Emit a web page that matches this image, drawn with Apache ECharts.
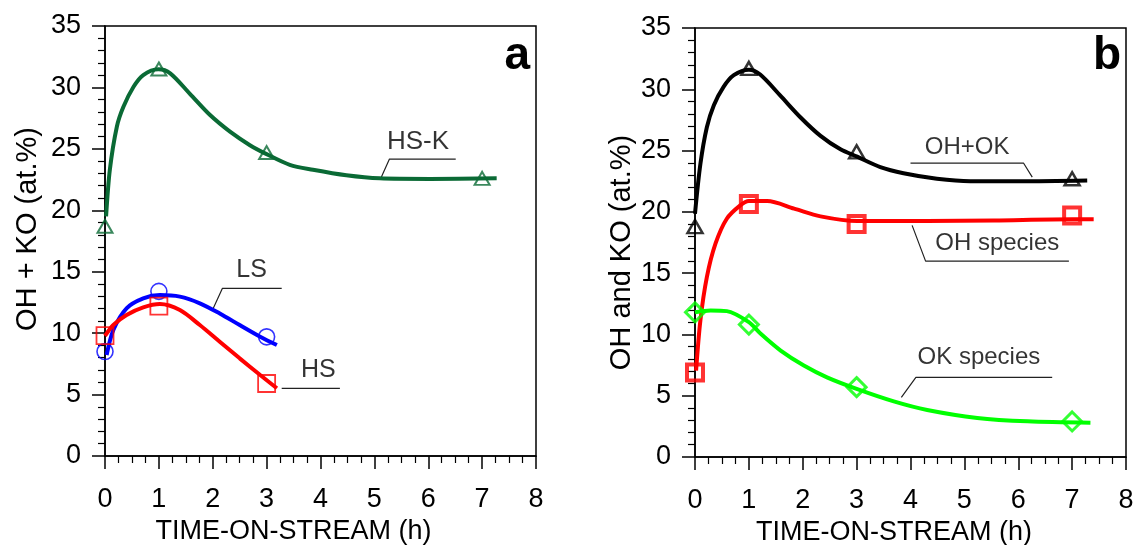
<!DOCTYPE html>
<html>
<head>
<meta charset="utf-8">
<script src="https://cdn.jsdelivr.net/npm/echarts@6/dist/echarts.min.js"></script>
<style>
html,body{margin:0;padding:0;background:#fff;}
#chart{width:1133px;height:545px;}
</style>
</head>
<body>
<div id="chart"></div>
<script>
// ---------- Panel a: measured points ----------
var ptsHSK = [[0, 18.7], [1, 31.5], [3, 24.7], [7, 22.6]];
var ptsLS  = [[0, 8.5], [1, 13.4], [3, 9.7]];
var ptsHS  = [[0, 9.8], [1, 12.2], [3, 5.9]];
// Panel a: fitted curves
var curveHSK = [[0.02,19.5],[0.09,23.3],[0.22,26.8],[0.34,28.4],[0.53,30.05],[0.71,31.0],[0.99,31.47],[1.21,31.15],[1.58,29.46],[1.95,27.75],[2.32,26.4],[2.69,25.3],[3.0,24.57],[3.43,23.7],[3.86,23.3],[4.48,22.85],[5.1,22.6],[6.03,22.55],[7.27,22.6]];
var curveLS = [[0.03,8.22],[0.155,10.26],[0.40,12.02],[0.71,12.83],[1.02,13.1],[1.39,12.97],[1.76,12.43],[2.13,11.6],[2.5,10.66],[2.88,9.71],[3.19,9.03]];
var curveHS = [[0.0,9.77],[0.155,10.66],[0.40,11.48],[0.71,12.1],[1.02,12.37],[1.39,11.88],[1.76,10.66],[2.13,9.3],[2.5,7.95],[2.88,6.59],[3.19,5.51]];

// ---------- Panel b: measured points ----------
var ptsSum = [[0, 18.8], [1, 31.7], [3, 24.9], [7, 22.7]];
var ptsOH  = [[0, 6.9], [1, 20.65], [3, 19.0], [7, 19.7]];
var ptsOK  = [[0, 11.8], [1, 10.8], [3, 5.7], [7, 2.9]];
// Panel b: fitted curves
var curveSum = [[0.0,19.85],[0.1,23.9],[0.22,26.9],[0.35,28.7],[0.53,30.2],[0.72,31.15],[1.0,31.6],[1.21,31.2],[1.58,29.5],[1.96,27.7],[2.33,26.2],[2.7,25.1],[3.01,24.5],[3.44,23.65],[3.87,23.15],[4.49,22.7],[5.11,22.5],[6.04,22.5],[7.28,22.56]];
var curveOH = [[0.02,7.05],[0.1,11.14],[0.22,14.67],[0.38,17.4],[0.59,19.44],[0.84,20.53],[1.0,20.88],[1.34,20.88],[1.84,20.26],[2.33,19.63],[3.01,19.25],[4.31,19.25],[5.55,19.3],[7.0,19.39],[7.4,19.39]];
var curveOK = [[0.0,11.81],[0.29,11.95],[0.59,11.9],[1.0,11.0],[1.22,10.05],[1.59,8.68],[2.02,7.46],[2.45,6.5],[3.0,5.56],[3.69,4.54],[4.31,3.84],[5.24,3.19],[6.17,2.91],[7.34,2.8]];

// ---------- annotation (label text, anchor in data units, leader polyline in data units) ----------
var annA = [
  {text: 'HS-K', at: [5.81, 25.6], size: 26, leader: [[5.13,22.7],[5.28,24.17],[6.51,24.17]]},
  {text: 'LS',   at: [2.72, 15.1], size: 25, leader: [[2.01,12.02],[2.18,13.65],[3.28,13.65]]},
  {text: 'HS',   at: [3.96, 7.0],  size: 25, leader: [[3.28,5.51],[4.36,5.51]]}
];
var annB = [
  {text: 'OH+OK',      at: [5.05, 25.3], size: 24, leader: [[4.0,23.97],[6.1,23.97],[6.26,22.83]]},
  {text: 'OH species', at: [5.61, 17.4], size: 24, leader: [[4.03,18.9],[4.28,15.98],[6.94,15.98]]},
  {text: 'OK species', at: [5.27, 8.14], size: 24, leader: [[3.83,4.87],[4.1,6.5],[6.63,6.5]]}
];

var xTicksMin = 0, xTicksMax = 8, xStep = 1;
var yTicksMin = 0, yTicksMax = 35, yStep = 5;

var FONT = '"Liberation Sans", Arial, sans-serif';

function xAx(gi, shift) {
  return {
    type: 'value', gridIndex: gi, min: xTicksMin, max: xTicksMax, interval: xStep,
    name: 'TIME-ON-STREAM (h)', nameLocation: 'middle', nameGap: 60,
    nameTextStyle: {fontFamily: FONT, fontSize: 27, color: '#000', padding: [0, shift, 0, 0]},
    axisLine: {show: true, onZero: false, lineStyle: {color: '#000', width: 1.5}},
    axisTick: {show: true, inside: false, length: 13, lineStyle: {color: '#000', width: 1.5}},
    minorTick: {show: true, splitNumber: 4, length: 7, lineStyle: {color: '#000', width: 1.2}},
    axisLabel: {fontFamily: FONT, fontSize: 27, color: '#000', margin: 30},
    splitLine: {show: false}, minorSplitLine: {show: false}
  };
}
function yAx(gi, name, gap, pad) {
  return {
    type: 'value', gridIndex: gi, min: yTicksMin, max: yTicksMax, interval: yStep,
    name: name, nameLocation: 'middle', nameGap: gap, nameRotate: 90,
    nameTextStyle: {fontFamily: FONT, fontSize: 29, color: '#000', padding: pad},
    axisLine: {show: true, onZero: false, lineStyle: {color: '#000', width: 1.5}},
    axisTick: {show: true, inside: false, length: 13, lineStyle: {color: '#000', width: 1.5}},
    minorTick: {show: true, splitNumber: 5, length: 7, lineStyle: {color: '#000', width: 1.2}},
    axisLabel: {fontFamily: FONT, fontSize: 27, color: '#000', margin: 24},
    splitLine: {show: false}, minorSplitLine: {show: false}
  };
}

function curve(gi, data, color) {
  return {type: 'line', xAxisIndex: gi, yAxisIndex: gi, data: data, smooth: 0.3,
    showSymbol: false, symbol: 'none', lineStyle: {color: color, width: 4}, z: 3, silent: true};
}
function marks(gi, data, symbol, size, color, bw) {
  return {type: 'scatter', xAxisIndex: gi, yAxisIndex: gi, data: data, symbol: symbol, symbolSize: size,
    itemStyle: {color: 'rgba(255,255,255,0)', borderColor: color, borderWidth: bw}, z: 4, silent: true};
}
function annSeries(gi, list) {
  var out = [];
  list.forEach(function (a) {
    out.push({type: 'line', xAxisIndex: gi, yAxisIndex: gi, data: a.leader, symbol: 'none',
      lineStyle: {color: '#222', width: 1.2}, z: 2, silent: true});
    out.push({type: 'scatter', xAxisIndex: gi, yAxisIndex: gi, data: [a.at], symbolSize: 0, silent: true,
      label: {show: true, position: 'inside', formatter: a.text, fontFamily: FONT, fontSize: a.size, color: '#000'}, z: 5});
  });
  return out;
}

var series = [
  curve(0, curveHSK, '#0a6a35'),
  curve(0, curveLS, '#0000ff'),
  curve(0, curveHS, '#ff0000'),
  marks(0, ptsHSK, 'triangle', [15, 13], '#0a6a35', 2),
  marks(0, ptsLS, 'circle', 16, '#0000ff', 1.6),
  marks(0, ptsHS, 'rect', 17, '#ff0000', 1.8),
  curve(1, curveSum, '#000000'),
  curve(1, curveOH, '#ff0000'),
  curve(1, curveOK, '#00ff00'),
  marks(1, ptsSum, 'triangle', [15, 13], '#000000', 2.5),
  marks(1, ptsOH, 'rect', 16, '#ff0000', 4),
  marks(1, ptsOK, 'diamond', [19, 19], '#00ff00', 3)
].concat(annSeries(0, annA)).concat(annSeries(1, annB));

var chart = echarts.init(document.getElementById('chart'), null, {renderer: 'canvas'});
chart.setOption({
  animation: false,
  backgroundColor: '#fff',
  title: [
    {text: 'a', right: 603, top: 33, textStyle: {fontFamily: FONT, fontSize: 46, fontWeight: 'bold', color: '#000'}, padding: 0},
    {text: 'b', right: 12, top: 33, textStyle: {fontFamily: FONT, fontSize: 46, fontWeight: 'bold', color: '#000'}, padding: 0}
  ],
  grid: [
    {left: 105, right: 597, top: 26, bottom: 89, show: true, borderColor: '#000', borderWidth: 1.5, backgroundColor: 'transparent', containLabel: false, outerBoundsMode: 'none'},
    {left: 695, right: 7, top: 28, bottom: 88, show: true, borderColor: '#000', borderWidth: 1.5, backgroundColor: 'transparent', containLabel: false, outerBoundsMode: 'none'}
  ],
  xAxis: [xAx(0, 54), xAx(1, 33)],
  yAxis: [yAx(0, 'OH + KO (at.%)', 63, [0, 0, 0, 24]), yAx(1, 'OH and KO (at.%)', 59, [0, 20, 0, 0])],
  series: series
});
</script>
</body>
</html>
